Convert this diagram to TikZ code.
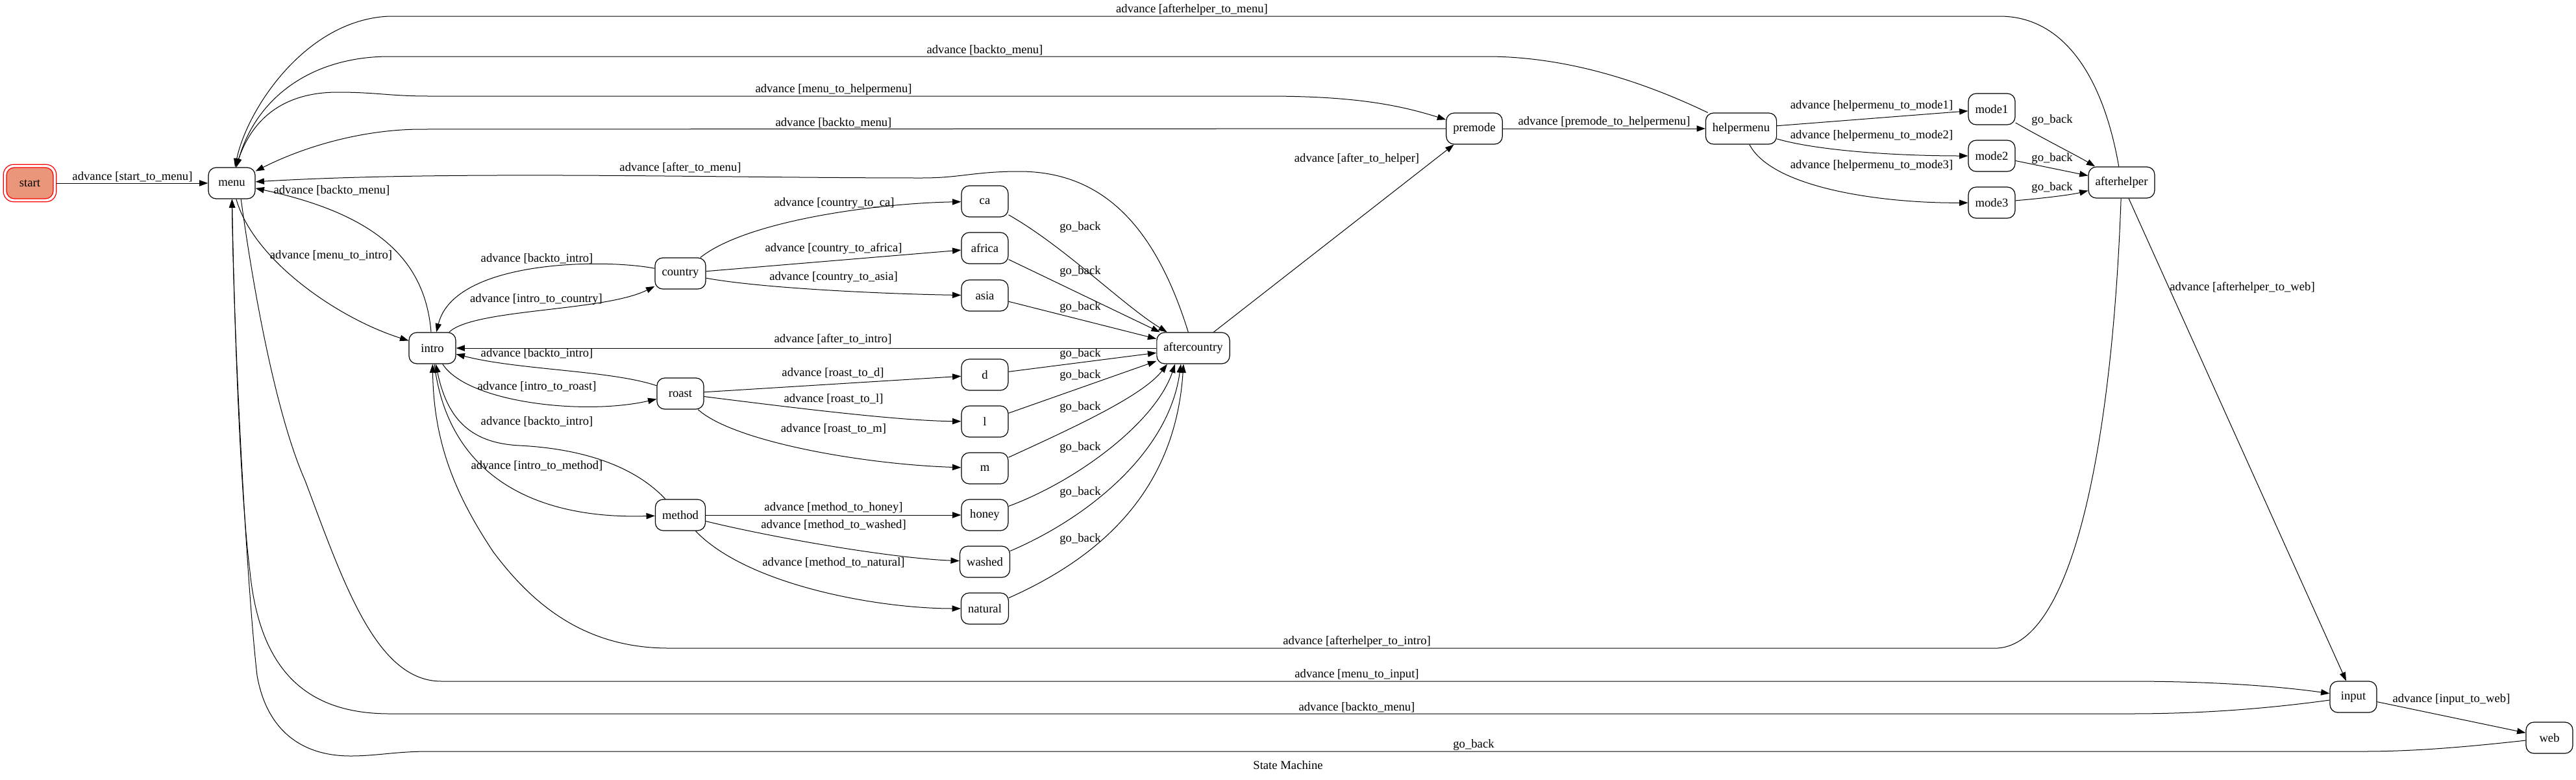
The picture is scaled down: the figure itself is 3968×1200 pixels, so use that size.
\documentclass[tikz,border=0pt]{standalone}
\usepackage{fontspec}
\setmainfont{Liberation Serif}
\usetikzlibrary{arrows.meta,calc}
\definecolor{salmonfill}{RGB}{233,150,122}
\begin{document}
\begin{tikzpicture}[x=0.75pt,y=-0.75pt,
  state/.style={draw=black, line width=0.9pt, rounded corners=9pt, minimum width=54pt, minimum height=36pt, inner xsep=7.9pt, inner ysep=0pt, font=\fontsize{14}{16}\selectfont},
  lbl/.style={inner sep=0pt, font=\fontsize{14}{16}\selectfont},
  edge/.style={draw=black, line width=0.75pt, -{Triangle[length=10pt,width=7pt]}}]
\useasboundingbox (0,0) rectangle (3968,1200);
\fill[white] (0,0) rectangle (3968,1200);

% states
\node[state, fill=salmonfill, draw=red, outer sep=3.6pt] (start) at (46,282) {start};
\draw[red, line width=0.9pt, rounded corners=12pt] (start.north west) rectangle (start.south east);
\node[state] (menu) at (357,282) {menu};
\node[state] (intro) at (666,536) {intro};
\node[state] (country) at (1048,421) {country};
\node[state] (roast) at (1048,606) {roast};
\node[state] (method) at (1048,793) {method};
\node[state] (ca) at (1517,310) {ca};
\node[state] (africa) at (1517,382) {africa};
\node[state] (asia) at (1517,455) {asia};
\node[state] (d) at (1517,577) {d};
\node[state] (l) at (1517,649) {l};
\node[state] (m) at (1517,721) {m};
\node[state] (honey) at (1517,793) {honey};
\node[state] (washed) at (1517,865) {washed};
\node[state] (natural) at (1517,937) {natural};
\node[state] (aftercountry) at (1838,536) {aftercountry};
\node[state] (premode) at (2271,198) {premode};
\node[state] (helpermenu) at (2682,198) {helpermenu};
\node[state] (mode1) at (3068,168) {mode1};
\node[state] (mode2) at (3068,240) {mode2};
\node[state] (mode3) at (3068,312) {mode3};
\node[state] (afterhelper) at (3268,281) {afterhelper};
\node[state] (input) at (3625,1073) {input};
\node[state] (web) at (3927,1136) {web};

% edges around menu
\draw[edge] (start) -- (menu);
\draw[edge] (menu) .. controls (390,400) and (520,490) .. (intro);
\draw[edge] (intro) .. controls (655,400) and (580,330) .. (menu);
\draw[edge] (menu) .. controls (385,180) and (440,142) .. (520,142) .. controls (580,142) and (600,148) .. (660,148) -- (1950,148) .. controls (2080,148) and (2150,160) .. (premode);
\draw[edge] (premode) -- (650,199) .. controls (560,199) and (470,225) .. (menu);
\draw[edge] (helpermenu) .. controls (2540,130) and (2420,87) .. (2290,87) -- (600,87) .. controls (480,87) and (395,150) .. (menu);
\draw[edge] (afterhelper) .. controls (3240,120) and (3180,25) .. (3080,25) -- (600,25) .. controls (470,30) and (380,170) .. (menu);
\draw[edge] (aftercountry) .. controls (1780,350) and (1700,264) .. (1570,264) .. controls (1500,264) and (1480,274) .. (1420,274) .. controls (1100,274) and (700,262) .. (menu);
\draw[edge] (menu.-60) .. controls (395,480) and (430,650) .. (470,740) .. controls (530,900) and (580,1049) .. (680,1049) -- (3280,1049) .. controls (3420,1049) and (3520,1058) .. (input);
\draw[edge] (input) .. controls (3500,1090) and (3400,1099) .. (3280,1099) -- (600,1099) .. controls (470,1099) and (400,1030) .. (385,880) .. controls (370,760) and (361,500) .. (menu);
\draw[edge] (web) .. controls (3800,1150) and (3720,1157) .. (3640,1157) -- (660,1157) .. controls (610,1157) and (580,1164) .. (540,1164) .. controls (460,1164) and (410,1120) .. (396,1040) .. controls (380,900) and (360,520) .. (menu);

% intro
\draw[edge] (intro) .. controls (730,475) and (930,480) .. (country);
\draw[edge] (country) .. controls (930,398) and (700,400) .. (intro);
\draw[edge] (intro) .. controls (720,620) and (900,640) .. (roast);
\draw[edge] (roast) .. controls (940,570) and (800,570) .. (intro);
\draw[edge] (intro) .. controls (690,730) and (820,800) .. (method);
\draw[edge] (method) .. controls (970,710) and (880,690) .. (800,686) .. controls (720,682) and (688,640) .. (intro);
\draw[edge] (aftercountry) -- (intro);
\draw[edge] (afterhelper) .. controls (3255,650) and (3200,990) .. (3077,998) -- (1030,998) .. controls (900,998) and (820,930) .. (760,850) .. controls (700,760) and (668,680) .. (intro);

% sub choices
\draw[edge] (country) .. controls (1150,340) and (1350,313) .. (ca);
\draw[edge] (country) -- (africa);
\draw[edge] (country) .. controls (1180,445) and (1380,453) .. (asia);
\draw[edge] (roast) -- (d);
\draw[edge] (roast) .. controls (1200,625) and (1380,648) .. (l);
\draw[edge] (roast) .. controls (1130,680) and (1330,715) .. (m);
\draw[edge] (method) -- (honey);
\draw[edge] (method) .. controls (1200,830) and (1380,860) .. (washed);
\draw[edge] (method) .. controls (1150,900) and (1350,937) .. (natural);

% go back to aftercountry
\draw[edge] (ca) .. controls (1640,380) and (1730,470) .. (aftercountry);
\draw[edge] (africa) -- (aftercountry);
\draw[edge] (asia) -- (aftercountry);
\draw[edge] (d) -- (aftercountry);
\draw[edge] (l) -- (aftercountry);
\draw[edge] (m) .. controls (1650,660) and (1760,610) .. ($(aftercountry.south)+(-40,0)$);
\draw[edge] (honey) .. controls (1660,740) and (1780,650) .. ($(aftercountry.south)+(-28,0)$);
\draw[edge] (washed) .. controls (1670,800) and (1800,700) .. ($(aftercountry.south)+(-19,0)$);
\draw[edge] (natural) .. controls (1690,860) and (1810,760) .. ($(aftercountry.south)+(-15,0)$);

% helper part
\draw[edge] (aftercountry) -- (premode);
\draw[edge] (premode) -- (helpermenu);
\draw[edge] (helpermenu) -- (mode1);
\draw[edge] (helpermenu) .. controls (2800,232) and (2920,240) .. (mode2);
\draw[edge] (helpermenu) .. controls (2730,290) and (2900,313) .. (mode3);
\draw[edge] (mode1) .. controls (3150,215) and (3200,240) .. (afterhelper);
\draw[edge] (mode2) -- (afterhelper);
\draw[edge] (mode3) .. controls (3150,305) and (3190,300) .. (afterhelper);
\draw[edge] (afterhelper) -- (input);
\draw[edge] (input) -- (web);

% labels
\node[lbl] (t01) at (204,272) {advance [start\_to\_menu]};
\node[lbl] (t02) at (510,393) {advance [menu\_to\_intro]};
\node[lbl] (t03) at (511,293) {advance [backto\_menu]};
\node[lbl] (t04) at (827,398) {advance [backto\_intro]};
\node[lbl] (t05) at (826,461) {advance [intro\_to\_country]};
\node[lbl] (t06) at (1285,313) {advance [country\_to\_ca]};
\node[lbl] (t07) at (1284,383) {advance [country\_to\_africa]};
\node[lbl] (t08) at (1284,427) {advance [country\_to\_asia]};
\node[lbl] (t09) at (1283,522) {advance [after\_to\_intro]};
\node[lbl] (t10) at (827,544) {advance [backto\_intro]};
\node[lbl] (t11) at (1283,574) {advance [roast\_to\_d]};
\node[lbl] (t12) at (827,595) {advance [intro\_to\_roast]};
\node[lbl] (t13) at (1284,614) {advance [roast\_to\_l]};
\node[lbl] (t14) at (827,649) {advance [backto\_intro]};
\node[lbl] (t15) at (1284,660) {advance [roast\_to\_m]};
\node[lbl] (t16) at (827,717) {advance [intro\_to\_method]};
\node[lbl] (t17) at (1284,782) {advance [method\_to\_honey]};
\node[lbl] (t18) at (1284,808) {advance [method\_to\_washed]};
\node[lbl] (t19) at (1284,866) {advance [method\_to\_natural]};
\node[lbl] (t20) at (1048,258) {advance [after\_to\_menu]};
\node[lbl] (t21) at (1836,15) {advance [afterhelper\_to\_menu]};
\node[lbl] (t22) at (1517,77) {advance [backto\_menu]};
\node[lbl] (t23) at (1284,138) {advance [menu\_to\_helpermenu]};
\node[lbl] (t24) at (1284,189) {advance [backto\_menu]};
\node[lbl] (t25) at (2090,245) {advance [after\_to\_helper]};
\node[lbl] (t26) at (2471,188) {advance [premode\_to\_helpermenu]};
\node[lbl] (t27) at (2883,163) {advance [helpermenu\_to\_mode1]};
\node[lbl] (t28) at (2883,209) {advance [helpermenu\_to\_mode2]};
\node[lbl] (t29) at (2883,255) {advance [helpermenu\_to\_mode3]};
\node[lbl] (g01) at (1664,350) {go\_back};
\node[lbl] (g02) at (1664,418) {go\_back};
\node[lbl] (g03) at (1664,473) {go\_back};
\node[lbl] (g04) at (1664,545) {go\_back};
\node[lbl] (g05) at (1664,578) {go\_back};
\node[lbl] (g06) at (1664,627) {go\_back};
\node[lbl] (g07) at (1664,689) {go\_back};
\node[lbl] (g08) at (1664,758) {go\_back};
\node[lbl] (g09) at (1664,830) {go\_back};
\node[lbl] (g10) at (3161,185) {go\_back};
\node[lbl] (g11) at (3161,244) {go\_back};
\node[lbl] (g12) at (3161,289) {go\_back};
\node[lbl] (t30) at (3454,443) {advance [afterhelper\_to\_web]};
\node[lbl] (t31) at (2090,988) {advance [afterhelper\_to\_intro]};
\node[lbl] (t32) at (2090,1039) {advance [menu\_to\_input]};
\node[lbl] (t33) at (2090,1089) {advance [backto\_menu]};
\node[lbl] (g13) at (2270,1147) {go\_back};
\node[lbl] (t34) at (3776,1077) {advance [input\_to\_web]};
\node[lbl] (title) at (1984,1178) {State Machine};
\end{tikzpicture}
\end{document}
